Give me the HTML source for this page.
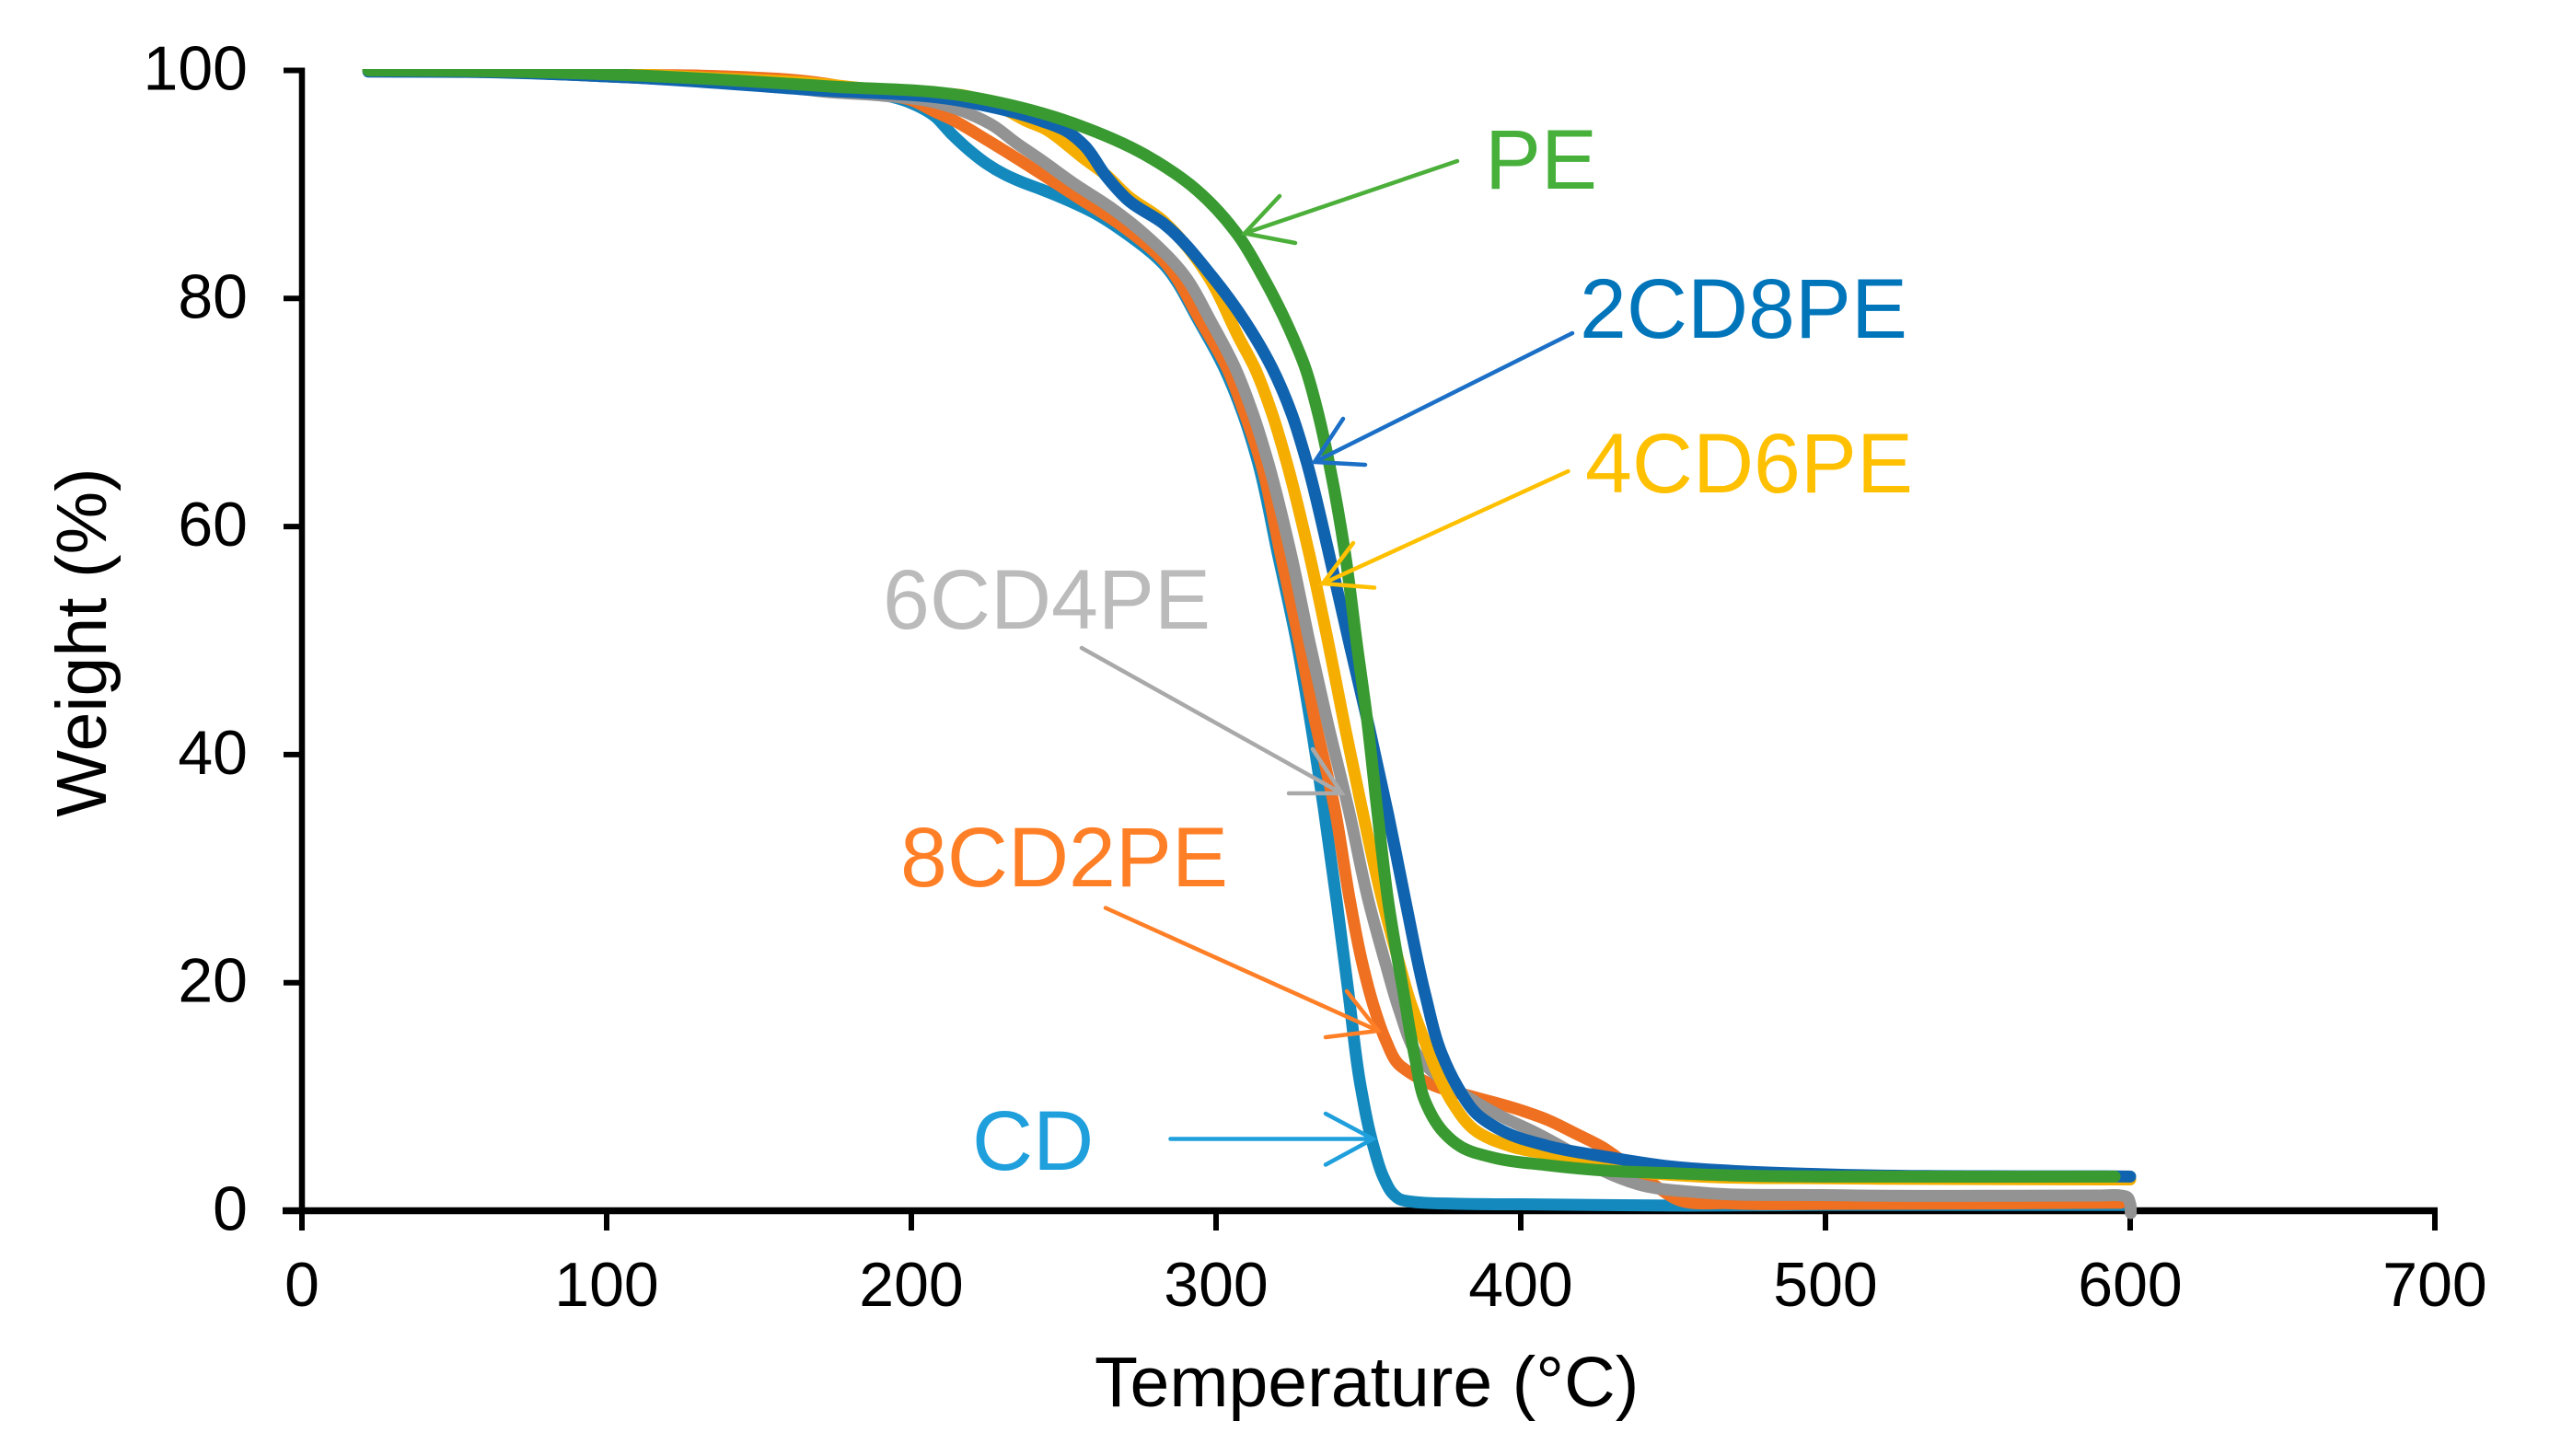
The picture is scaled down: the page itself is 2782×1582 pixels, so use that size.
<!DOCTYPE html>
<html lang="en">
<head>
<meta charset="utf-8">
<title>TGA weight loss curves</title>
<style>
html,body{margin:0;padding:0;background:#fff;width:2782px;height:1582px;overflow:hidden}
svg{display:block}
text{font-family:"Liberation Sans",Arial,sans-serif}
</style>
</head>
<body>
<svg id="chart" xmlns="http://www.w3.org/2000/svg" width="2782" height="1582" viewBox="0 0 2782 1582">
  <rect width="2782" height="1582" fill="#fff"/>
  <defs>
    <clipPath id="plot-clip"><rect x="300" y="75" width="2400" height="1300"/></clipPath>
  </defs>
  <g id="axes"></g>
  <g id="series" clip-path="url(#plot-clip)" fill="none" stroke-width="13" stroke-linecap="round" stroke-linejoin="round"></g>

  <g fill="none" stroke-linecap="round" stroke-linejoin="miter">
    <g stroke="#4BAF3A" stroke-width="4.5">
      <path d="M1583 175L1352 253.5M1390 213L1352 253.5L1407 264"/>
    </g>
    <g stroke="#1B6FC6" stroke-width="4.5">
      <path d="M1708 362L1428 502M1459 455L1428 502L1483 505"/>
    </g>
    <g stroke="#FFC000" stroke-width="4.5">
      <path d="M1703.5 512L1437 634M1470 590L1437 634L1493 638.5"/>
    </g>
    <g stroke="#A9A9A9" stroke-width="4.5">
      <path d="M1175 704L1457.5 862M1426 814L1457.5 862L1400 862"/>
    </g>
    <g stroke="#FF7F27" stroke-width="4.5">
      <path d="M1201 986.5L1497 1120M1463 1077L1497 1120L1440 1127"/>
    </g>
    <g stroke="#1F9FDC" stroke-width="4.5">
      <path d="M1271.5 1237.5L1491.5 1237.5M1440 1210L1491.5 1237.5L1440 1265.5"/>
    </g>
  </g>

  <g font-size="91.5">
    <text x="1613" y="205" fill="#46B03B">PE</text>
    <text x="1716" y="367" fill="#0075BA">2CD8PE</text>
    <text x="1722" y="535" fill="#FFC000">4CD6PE</text>
    <text x="959" y="683" fill="#BBBBBB">6CD4PE</text>
    <text x="978" y="963" fill="#FF7F27">8CD2PE</text>
    <text x="1056" y="1271" fill="#1F9FDC">CD</text>
  </g>

  <text x="1189" y="1528" font-size="77" fill="#000">Temperature (°C)</text>
  <text transform="translate(115,698) rotate(-90)" text-anchor="middle" font-size="77" fill="#000">Weight (%)</text>
</svg>

<script>
// Tick labels
const xTickValues = [0, 100, 200, 300, 400, 500, 600, 700];
const yTickValues = [0, 20, 40, 60, 80, 100];

// CD
const cdTemps = [21.8, 60, 106, 150, 172, 190, 199.4, 207.6, 213.3, 219, 224.8, 230.5, 236.3, 242.3, 251.4, 260.7, 271, 282.8, 294.6, 302.7, 308.8, 313.6, 320.2, 326.6, 330.8, 335.4, 339.6, 343.5, 347.4, 351.7, 355, 358, 360, 364, 368, 378.2, 408.5, 448.6, 500, 600];
const cdWeights = [100, 99.9, 99.4, 98.8, 98.3, 97.9, 97.2, 96, 94.4, 93, 91.8, 90.9, 90.2, 89.6, 88.6, 87.4, 85.6, 83, 77.9, 73.9, 69.9, 65.8, 57.7, 49.7, 43.2, 35.2, 27.1, 19, 11, 5.6, 2.9, 1.5, 1.05, 0.8, 0.7, 0.62, 0.55, 0.45, 0.5, 0.5];

// 8CD2PE
const cd8pe2Temps = [21.8, 60, 114, 136.6, 172.8, 190, 200, 207.6, 213.3, 224.8, 237.5, 253.8, 271, 282.8, 295.2, 303.6, 309.4, 314.5, 321.1, 327.5, 332.3, 339, 344, 348, 352, 355.6, 360.1, 363.1, 371.3, 384.3, 398.4, 408.5, 418.5, 426.6, 433.6, 444.7, 450.8, 468.9, 500, 597];
const cd8pe2Weights = [100, 99.95, 99.6, 99.5, 98.8, 97.9, 97.4, 96.4, 95.7, 93.9, 91.8, 89, 86, 83.3, 77.9, 73.9, 69.9, 65.8, 57.7, 49.7, 43.2, 35.2, 27.1, 21.7, 17.7, 15, 12.8, 12.2, 11, 10, 8.95, 8, 6.7, 5.6, 4.3, 2.1, 1.05, 0.65, 0.6, 0.7];

// 6CD4PE
const cd6pe4Temps = [21.8, 60, 106, 150, 172.8, 190, 207.6, 219, 227.2, 234.1, 242.3, 253.8, 265.3, 276.7, 289.7, 298.5, 306.3, 312.1, 316.9, 324.5, 330.8, 336.6, 343.5, 350.1, 355.6, 360, 366.2, 381.3, 393.4, 404.5, 413.6, 426.6, 438.7, 458.9, 499, 590, 597, 599, 600, 600.2];
const cd6pe4Weights = [100, 99.9, 99.4, 98.8, 98.1, 97.8, 97.2, 96.2, 95.1, 93.7, 92.2, 90, 88, 85.6, 82, 77.9, 73.9, 69.9, 65.8, 57.7, 49.7, 42.8, 35.2, 27.1, 21.7, 17.7, 13.6, 10.2, 8.3, 6.9, 5.6, 3.55, 2.3, 1.6, 1.37, 1.33, 1.33, 1.2, 0.6, -0.2];

// 4CD6PE
const cd4pe6Temps = [21.8, 60, 114, 136.6, 166.8, 200, 219, 230.5, 237.5, 244.4, 251.4, 256, 264, 271, 282.2, 290.6, 297.3, 307.6, 312.7, 318.4, 323, 330.5, 336.9, 342.3, 348, 354.7, 360.1, 363.4, 368.3, 372.2, 377.3, 384.3, 397.3, 408.5, 438.7, 459, 499, 600];
const cd4pe6Weights = [100, 99.96, 99.6, 99.3, 98.9, 98, 97.7, 96.6, 95.6, 94.8, 93.4, 92.4, 90.8, 89, 86.9, 84.5, 82, 76.5, 73.9, 69.9, 65.8, 57.7, 49.7, 42.4, 35.1, 27.1, 21.7, 18.6, 15, 12.3, 9.6, 7.2, 5.6, 5, 3.4, 3, 2.85, 2.74];

// 2CD8PE
const cd2pe8Temps = [21.8, 60, 106.3, 166.8, 219, 242.3, 251.4, 256.8, 264, 271, 283.1, 298.8, 309.7, 318.4, 324.8, 329.6, 336.9, 343.8, 350.2, 356.5, 362.2, 368.6, 374, 379.2, 385.5, 394, 408.5, 428.7, 448.6, 468.9, 499.1, 600];
const cd2pe8Weights = [99.9, 99.85, 99.4, 98.3, 97.2, 95.6, 94.6, 93.4, 90.7, 88.65, 86.5, 81.9, 77.9, 73.9, 69.9, 65.8, 57.8, 49.7, 42.4, 34.7, 27.1, 19, 13.8, 10.9, 8.5, 7, 5.7, 4.7, 3.9, 3.5, 3.2, 3];

// PE
const peTemps = [21.8, 52, 106.3, 172.8, 219, 253.8, 276.7, 293.7, 307.6, 315.4, 323.9, 329.3, 333.5, 336.9, 342.3, 346.2, 349.5, 352.9, 356.5, 361.6, 365.3, 368.6, 374.6, 380.4, 390.3, 408.5, 428.7, 448.6, 468.9, 499.1, 594.9];
const peWeights = [100, 99.96, 99.6, 98.6, 97.7, 95.3, 92.6, 89.5, 85.4, 81.9, 77.4, 73.9, 69.9, 65.8, 57.7, 49.7, 43.2, 35.1, 27.1, 19, 13.4, 9.6, 6.9, 5.6, 4.7, 4, 3.5, 3.3, 3.1, 3, 3];

// Axis functions
function xScale(t) { return 328 + 3.31 * t; }
function yScale(w) { return 1315.5 - 12.39 * w; }

const NS = 'http://www.w3.org/2000/svg';
const axesGroup = document.getElementById('axes');
const seriesGroup = document.getElementById('series');

function smoothPath(temps, weights) {
  const pts = temps.map(function (t, i) { return [xScale(t), yScale(weights[i])]; });
  const n = pts.length;
  const lens = [];
  for (let i = 0; i < n - 1; i++) {
    lens.push(Math.max(Math.hypot(pts[i + 1][0] - pts[i][0], pts[i + 1][1] - pts[i][1]), 0.001));
  }
  const tans = pts.map(function (p, i) {
    if (i === 0) return [(pts[1][0] - p[0]) / lens[0], (pts[1][1] - p[1]) / lens[0]];
    if (i === n - 1) return [(p[0] - pts[i - 1][0]) / lens[i - 1], (p[1] - pts[i - 1][1]) / lens[i - 1]];
    const l0 = lens[i - 1];
    const l1 = lens[i];
    const v0 = [(p[0] - pts[i - 1][0]) / l0, (p[1] - pts[i - 1][1]) / l0];
    const v1 = [(pts[i + 1][0] - p[0]) / l1, (pts[i + 1][1] - p[1]) / l1];
    return [(v0[0] * l1 + v1[0] * l0) / (l0 + l1), (v0[1] * l1 + v1[1] * l0) / (l0 + l1)];
  });
  let d = 'M' + pts[0][0].toFixed(2) + ' ' + pts[0][1].toFixed(2);
  for (let i = 0; i < n - 1; i++) {
    const h = lens[i] / 3;
    const c1x = pts[i][0] + tans[i][0] * h;
    const c1y = pts[i][1] + tans[i][1] * h;
    const c2x = pts[i + 1][0] - tans[i + 1][0] * h;
    const c2y = pts[i + 1][1] - tans[i + 1][1] * h;
    d += 'C' + c1x.toFixed(2) + ' ' + c1y.toFixed(2) + ' ' + c2x.toFixed(2) + ' ' + c2y.toFixed(2) + ' ' + pts[i + 1][0].toFixed(2) + ' ' + pts[i + 1][1].toFixed(2);
  }
  return d;
}

function addLine(x1, y1, x2, y2, w) {
  const el = document.createElementNS(NS, 'line');
  el.setAttribute('x1', x1);
  el.setAttribute('y1', y1);
  el.setAttribute('x2', x2);
  el.setAttribute('y2', y2);
  el.setAttribute('stroke', '#000');
  el.setAttribute('stroke-width', w);
  axesGroup.appendChild(el);
  return el;
}

// Axis lines
const yAxisLine = addLine(xScale(0), yScale(100) - 3, xScale(0), yScale(0), 6.5);


const xAxisLine = addLine(307, yScale(0), xScale(700) + 3, yScale(0), 7.5);



// X ticks and labels
xTickValues.forEach(function (v) {
  const tick = addLine(xScale(v), yScale(0), xScale(v), 1337, 6);
  
  
  const label = document.createElementNS(NS, 'text');
  
  
  label.setAttribute('x', xScale(v));
  label.setAttribute('y', 1419);
  label.setAttribute('text-anchor', 'middle');
  label.setAttribute('font-size', '68');
  label.textContent = v;
  axesGroup.appendChild(label);
});

// Y ticks and labels
yTickValues.forEach(function (v) {
  const tick = addLine(308, yScale(v), xScale(0), yScale(v), 6);
  
  
  const label = document.createElementNS(NS, 'text');
  
  
  label.setAttribute('x', 269);
  label.setAttribute('y', yScale(v) + 21);
  label.setAttribute('text-anchor', 'end');
  label.setAttribute('font-size', '68');
  label.textContent = v;
  axesGroup.appendChild(label);
});

// Series, bottom to top
const cdLine = document.createElementNS(NS, 'path');


cdLine.setAttribute('stroke', '#1389BE');
cdLine.setAttribute('d', smoothPath(cdTemps, cdWeights));
seriesGroup.appendChild(cdLine);

const cd8Line = document.createElementNS(NS, 'path');


cd8Line.setAttribute('stroke', '#EE7020');
cd8Line.setAttribute('d', smoothPath(cd8pe2Temps, cd8pe2Weights));
seriesGroup.appendChild(cd8Line);

const cd6Line = document.createElementNS(NS, 'path');


cd6Line.setAttribute('stroke', '#939393');
cd6Line.setAttribute('d', smoothPath(cd6pe4Temps, cd6pe4Weights));
seriesGroup.appendChild(cd6Line);

const cd4Line = document.createElementNS(NS, 'path');


cd4Line.setAttribute('stroke', '#F5AE00');
cd4Line.setAttribute('d', smoothPath(cd4pe6Temps, cd4pe6Weights));
seriesGroup.appendChild(cd4Line);

const cd2Line = document.createElementNS(NS, 'path');


cd2Line.setAttribute('stroke', '#1063AF');
cd2Line.setAttribute('d', smoothPath(cd2pe8Temps, cd2pe8Weights));
seriesGroup.appendChild(cd2Line);

const peLine = document.createElementNS(NS, 'path');


peLine.setAttribute('stroke', '#3A9A32');
peLine.setAttribute('d', smoothPath(peTemps, peWeights));
seriesGroup.appendChild(peLine);
</script>
</body>
</html>
